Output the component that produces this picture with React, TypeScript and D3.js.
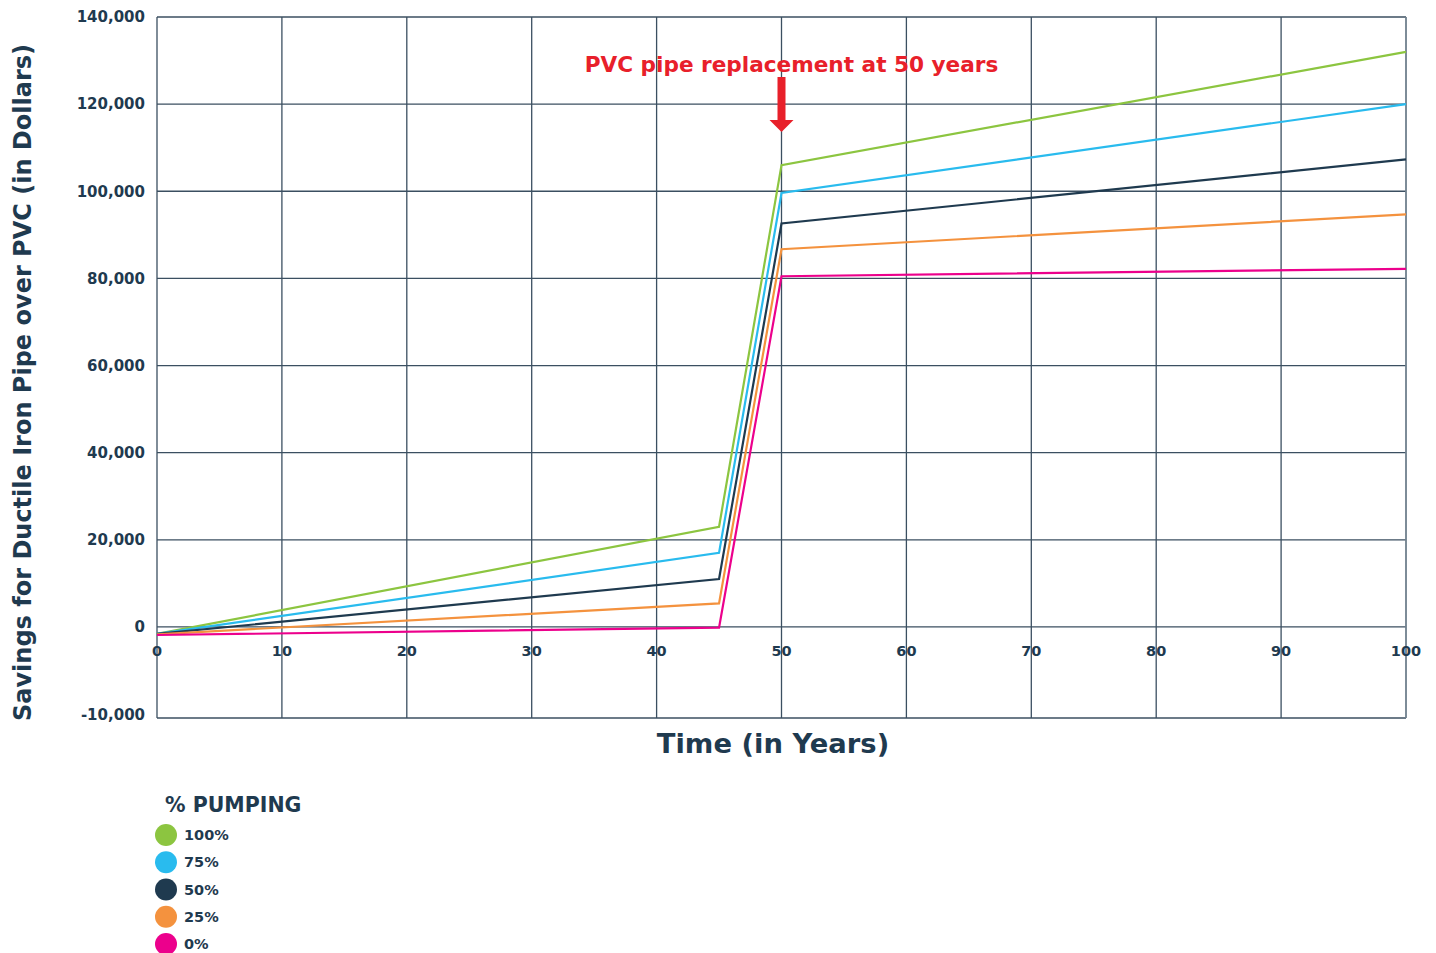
import { useMemo } from 'react'

import { line, scaleLinear } from 'd3'

const years = [0, 45, 50, 100]

const pumpingLevels = ['100%', '75%', '50%', '25%', '0%']
const pumping100 = [-1600, 23000, 106000, 132000]
const pumping75 = [-1600, 17000, 99600, 120000]
const pumping50 = [-1600, 11000, 92600, 107300]
const pumping25 = [-1700, 5400, 86700, 94700]
const pumping0 = [-1850, -150, 80500, 82200]
const seriesColors = ['#8cc540', '#29bbee', '#1f3a4f', '#f4923e', '#ec008c']

const xTicks = [0, 10, 20, 30, 40, 50, 60, 70, 80, 90, 100]
const yTicks = [0, 20000, 40000, 60000, 80000, 100000, 120000, 140000]
// the reference labels its bottom gridline "-10,000" although it sits lower on the scale
const yBottom = -20900
const yBottomLabel = '-10,000'

const replacementYear = 50

const ink = '#1f3a4f'
const red = '#e8202a'
const font = '"DejaVu Sans", sans-serif'

const width = 1436
const height = 953
const margin = { top: 17, right: 30, bottom: 235, left: 157 }

export default function App() {
  const x = useMemo(
    () => scaleLinear().domain([0, 100]).range([margin.left, width - margin.right]),
    []
  )
  const y = useMemo(
    () => scaleLinear().domain([yBottom, 140000]).range([height - margin.bottom, margin.top]),
    []
  )

  const series = [pumping100, pumping75, pumping50, pumping25, pumping0]
  const path = line<[number, number]>()
    .x(d => x(d[0]))
    .y(d => y(d[1]))

  const [x0, x1] = x.range()
  const [yb, yt] = y.range()
  const arrowX = x(replacementYear)

  return (
    <svg
      width={width}
      height={height}
      style={{ position: 'absolute', left: 0, top: 0, display: 'block' }}
      fontFamily={font}
    >
      <rect width={width} height={height} fill="#fff" />

      {/* grid */}
      {xTicks.map(t => (
        <line key={`gx${t}`} x1={x(t)} x2={x(t)} y1={yt} y2={yb} stroke="#3b4f61" strokeWidth={1.3} />
      ))}
      {[...yTicks, yBottom].map(t => (
        <line key={`gy${t}`} x1={x0} x2={x1} y1={y(t)} y2={y(t)} stroke="#3b4f61" strokeWidth={1.3} />
      ))}
      <line x1={x1} x2={x1} y1={yt} y2={yb} stroke="#7d8c98" strokeWidth={1.5} />

      {/* y tick labels */}
      {yTicks.map(t => (
        <text
          key={`ly${t}`}
          x={x0 - 12}
          y={y(t)}
          dy="0.35em"
          textAnchor="end"
          fontSize={15}
          fontWeight="bold"
          fill={ink}
        >
          {t.toLocaleString('en-US')}
        </text>
      ))}
      <text x={x0 - 12} y={yb - 3} dy="0.35em" textAnchor="end" fontSize={15} fontWeight="bold" fill={ink}>
        {yBottomLabel}
      </text>

      {/* x tick labels */}
      {xTicks.map(t => (
        <text
          key={`lx${t}`}
          x={x(t)}
          y={y(0) + 29}
          textAnchor="middle"
          fontSize={14.5}
          fontWeight="bold"
          fill={ink}
        >
          {t}
        </text>
      ))}

      {/* series */}
      {series.map((values, i) => (
        <path
          key={pumpingLevels[i]}
          d={path(years.map((yr, j) => [yr, values[j]] as [number, number])) ?? ''}
          fill="none"
          stroke={seriesColors[i]}
          strokeWidth={2.2}
          strokeLinejoin="miter"
        />
      ))}

      {/* annotation */}
      <text x={arrowX + 10} y={72} textAnchor="middle" fontSize={21.6} fontWeight="bold" fill={red}>
        PVC pipe replacement at 50 years
      </text>
      <rect x={arrowX - 4} y={77} width={8} height={44} fill={red} />
      <path d={`M${arrowX - 12},120 L${arrowX + 12},120 L${arrowX},132 Z`} fill={red} />

      {/* axis titles */}
      <text x={773} y={753} textAnchor="middle" fontSize={27.4} fontWeight="bold" fill={ink}>
        Time (in Years)
      </text>
      <text
        transform={`translate(31, ${(yt + yb) / 2 + 15}) rotate(-90)`}
        textAnchor="middle"
        fontSize={24}
        fontWeight="bold"
        fill={ink}
      >
        Savings for Ductile Iron Pipe over PVC (in Dollars)
      </text>

      {/* legend */}
      <text x={165} y={812} fontSize={20.5} fontWeight="bold" fill={ink}>
        % PUMPING
      </text>
      {pumpingLevels.map((label, i) => (
        <g key={`lg${label}`} transform={`translate(166, ${835 + i * 27.25})`}>
          <circle r={11} fill={seriesColors[i]} />
          <text x={18} dy="0.35em" fontSize={14.5} fontWeight="bold" fill={ink}>
            {label}
          </text>
        </g>
      ))}
    </svg>
  )
}
